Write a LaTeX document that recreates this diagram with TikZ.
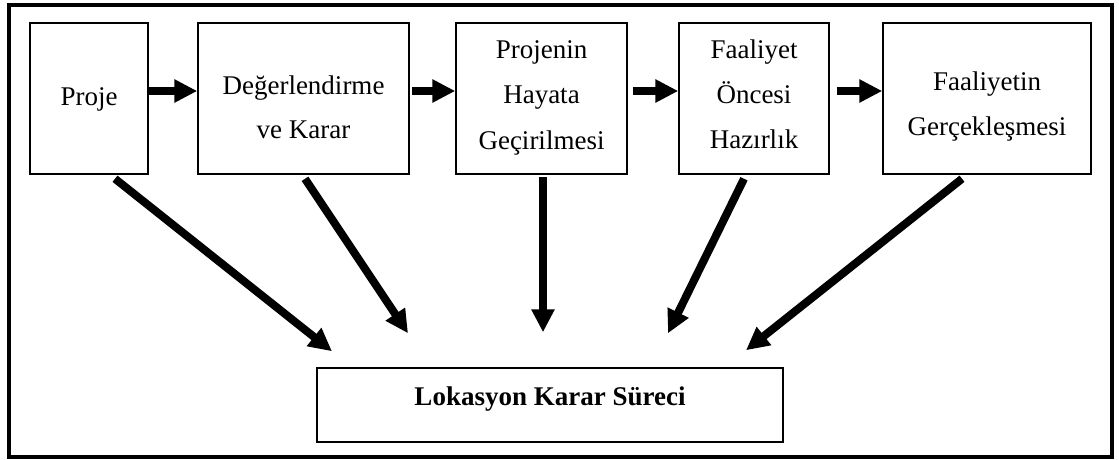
\documentclass[tikz,border=0pt]{standalone}
\usepackage{fontspec}
\setmainfont{Liberation Serif}
\usetikzlibrary{arrows.meta}
\begin{document}
\begin{tikzpicture}[x=1pt,y=-1pt,
  box/.style={draw, line width=1.5pt, inner sep=0pt, minimum width=#1, minimum height=151pt},
  lbl/.style={font=\fontsize{27}{32}\selectfont, inner sep=0pt, anchor=base},
  arr/.style={line width=8pt, -{Triangle[length=23pt,width=22pt]}},
  frame/.style={line width=3.5pt}
]
\useasboundingbox (0,0) rectangle (1119,459);
\draw[frame] (9,5) rectangle (1112,457);

% top boxes
\node[box=118pt] (p1) at (89,98.5) {};
\node[box=211pt] (p2) at (303.5,98.5) {};
\node[box=171pt] (p3) at (541.5,98.5) {};
\node[box=150pt] (p4) at (754,98.5) {};
\node[box=208pt] (p5) at (987,98.5) {};

% labels
\node[lbl] (p1a) at (89,105) {Proje};
\node[lbl] (p2a) at (303.5,94) {Değerlendirme};
\node[lbl] (p2b) at (303.5,138) {ve Karar};
\node[lbl] (p3a) at (541.5,58) {Projenin};
\node[lbl] (p3b) at (541.5,103) {Hayata};
\node[lbl] (p3c) at (541.5,149) {Geçirilmesi};
\node[lbl] (p4a) at (754,58) {Faaliyet};
\node[lbl] (p4b) at (754,103) {Öncesi};
\node[lbl] (p4c) at (754,148) {Hazırlık};
\node[lbl] (p5a) at (987,90) {Faaliyetin};
\node[lbl] (p5b) at (987,135) {Gerçekleşmesi};

% bottom box
\node[draw, line width=1.5pt, inner sep=0pt, minimum width=466pt, minimum height=74pt,
      text height=10pt, text depth=10pt, font=\fontsize{27}{32}\selectfont\bfseries]
      (bot) at (550,405) {Lokasyon Karar Süreci};

% horizontal arrows
\draw[arr] ([yshift=7.5pt]p1.east) -- ([yshift=7.5pt]p2.west);
\draw[arr] ([xshift=2pt,yshift=7.5pt]p2.east) -- ([yshift=7.5pt]p3.west);
\draw[arr] ([xshift=5pt,yshift=7.5pt]p3.east) -- ([yshift=7.5pt]p4.west);
\draw[arr] ([xshift=7pt,yshift=7.5pt]p4.east) -- ([yshift=7.5pt]p5.west);

% arrows to bottom box
\draw[arr] ([xshift=26pt,yshift=-4pt]p1.south) -- ([xshift=-218pt,yshift=16pt]bot.north);
\draw[arr] ([xshift=1.5pt,yshift=-4pt]p2.south) -- ([xshift=-142pt,yshift=34pt]bot.north);
\draw[arr] ([xshift=1.5pt,yshift=-2pt]p3.south) -- ([xshift=-7pt,yshift=35pt]bot.north);
\draw[arr] ([xshift=-10pt,yshift=-4pt]p4.south) -- ([xshift=118pt,yshift=34pt]bot.north);
\draw[arr] ([xshift=-25pt,yshift=-4pt]p5.south) -- ([xshift=196pt,yshift=17pt]bot.north);
\end{tikzpicture}
\end{document}
